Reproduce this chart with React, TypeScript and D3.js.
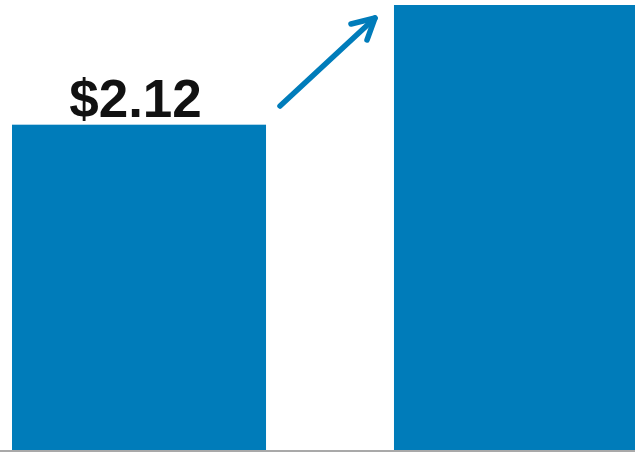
import React from "react";
import * as d3 from "d3";

const categories: string[] = ["Before", "After"];
const values: number[] = [2.12, 2.9];
const labels: string[] = ["$2.12", ""];

const W = 635;
const H = 452;
const COLOR = "#007cba";

export default function App() {
  const x = d3.scaleBand<string>().domain(categories).range([12, 648]).paddingInner(0.335).paddingOuter(0);
  const y = d3.scaleLinear().domain([0, 2.9]).range([450, 5]);
  const arrowStart: [number, number] = [280, 106];
  const arrowEnd: [number, number] = [375, 18];
  const line = d3.line();
  return (
    <svg
      width={W}
      height={H}
      style={{ position: "absolute", left: 0, top: 0, background: "#fff" }}
    >
      {categories.map((c, i) => (
        <rect key={c} x={x(c)} y={y(values[i])} width={x.bandwidth()} height={y(0) - y(values[i])} fill={COLOR} />
      ))}
      <line x1={0} x2={W} y1={451} y2={451} stroke="#a9a9a9" strokeWidth={2} />
      {categories.map((c, i) =>
        labels[i] ? (
          <text
            key={"l" + c}
            x={(x(c) as number) + x.bandwidth() / 2 - 3.5}
            y={y(values[i]) - 8}
            textAnchor="middle"
            fontFamily="Liberation Sans, Arial, sans-serif"
            fontWeight="bold"
            fontSize={53}
            fill="#111"
          >
            {labels[i]}
          </text>
        ) : null
      )}
      <path d={line([arrowStart, arrowEnd]) || ""} stroke={COLOR} strokeWidth={5.5} strokeLinecap="round" fill="none" />
      <path
        d={line([[351, 24], arrowEnd, [367, 40]]) || ""}
        stroke={COLOR}
        strokeWidth={5.5}
        strokeLinecap="round"
        strokeLinejoin="round"
        fill="none"
      />
    </svg>
  );
}
